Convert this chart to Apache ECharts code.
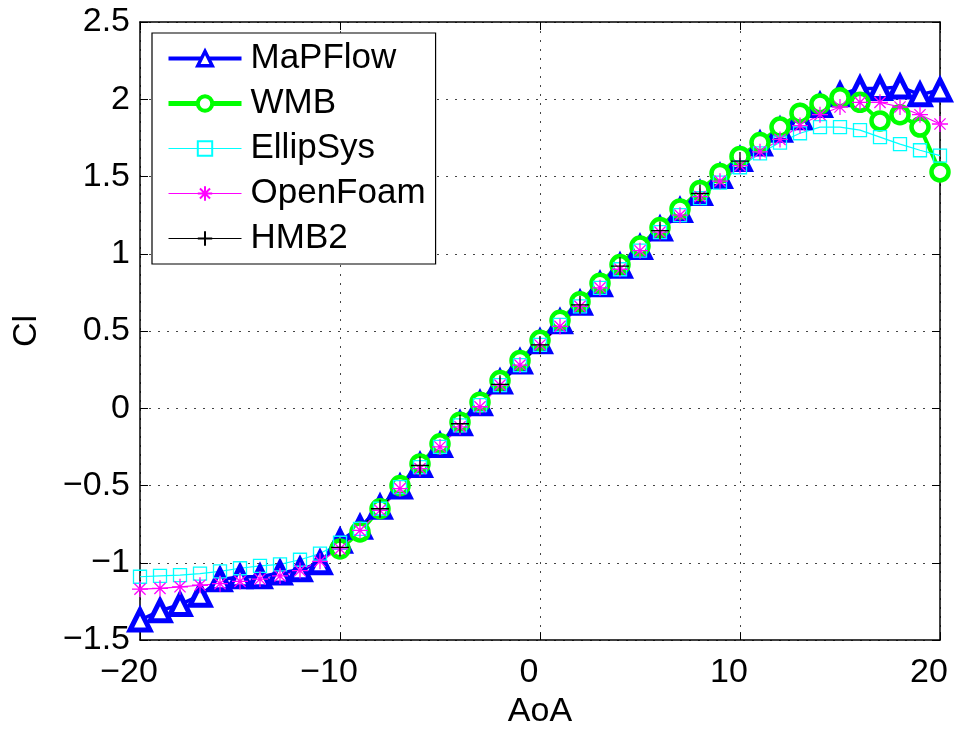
<!DOCTYPE html>
<html>
<head>
<meta charset="utf-8">
<script src="https://cdn.jsdelivr.net/npm/echarts@6/dist/echarts.min.js"></script>
</head>
<body style="margin: 0; padding: 0; background: #fff;">
<div id="chart" style="width: 964px; height: 734px;"></div>
<script>
// angle of attack, deg
const aoa = [-20, -19, -18, -17, -16, -15, -14, -13, -12, -11, -10, -9, -8, -7, -6, -5, -4, -3, -2, -1,
  0, 1, 2, 3, 4, 5, 6, 7, 8, 9, 10, 11, 12, 13, 14, 15, 16, 17, 18, 19, 20]
const aoaWmb = [-10, -9, -8, -7, -6, -5, -4, -3, -2, -1, 0, 1, 2, 3, 4, 5, 6, 7, 8, 9, 10,
  11, 12, 13, 14, 15, 16, 17, 18, 19, 20]
const aoaHmb = [-10, -8, -6, -4, -2, 0, 2, 4, 6, 8, 10]

// Cl values
const mapflow = [-1.37, -1.31, -1.27, -1.21, -1.11, -1.09, -1.09, -1.065, -1.045, -1.00, -0.86, -0.77, -0.64, -0.51, -0.37, -0.24, -0.10, 0.03, 0.17, 0.30,
  0.43, 0.56, 0.68, 0.80, 0.92, 1.04, 1.16, 1.28, 1.39, 1.50, 1.61, 1.71, 1.80, 1.88, 1.96, 2.03, 2.07, 2.07, 2.08, 2.03, 2.06]
const wmb = [-0.91, -0.80, -0.65, -0.50, -0.36, -0.23, -0.09, 0.04, 0.18, 0.31, 0.44, 0.57, 0.69, 0.81, 0.93, 1.05, 1.17, 1.29, 1.41, 1.52,
  1.63, 1.72, 1.82, 1.91, 1.97, 2.01, 1.98, 1.86, 1.90, 1.82, 1.53]
const ellipsys = [-1.09, -1.085, -1.08, -1.07, -1.055, -1.035, -1.02, -1.01, -0.98, -0.94, -0.87, -0.78, -0.65, -0.51, -0.38, -0.25, -0.11, 0.02, 0.15, 0.28,
  0.41, 0.54, 0.66, 0.78, 0.90, 1.02, 1.14, 1.25, 1.36, 1.46, 1.56, 1.65, 1.72, 1.78, 1.82, 1.82, 1.80, 1.755, 1.71, 1.67, 1.635]
const openfoam = [-1.17, -1.165, -1.155, -1.145, -1.135, -1.12, -1.105, -1.085, -1.05, -0.99, -0.91, -0.79, -0.66, -0.52, -0.39, -0.25, -0.12, 0.01, 0.15, 0.28,
  0.41, 0.53, 0.66, 0.78, 0.90, 1.02, 1.14, 1.25, 1.37, 1.47, 1.57, 1.66, 1.74, 1.83, 1.90, 1.95, 1.98, 1.98, 1.95, 1.90, 1.84]
const hmb2 = [-0.90, -0.65, -0.37, -0.10, 0.155, 0.41, 0.67, 0.92, 1.15, 1.39, 1.60]

const FONT = 'Liberation Sans, Arial, Helvetica, sans-serif'
const STAR = 'path://M10 0L10 20M0 10L20 10M3 3L17 17M3 17L17 3'
const PLUS = 'path://M10 0L10 20M0 10L20 10'

const pairs = (xs, ys) => xs.map((x, i) => [x, ys[i]])
const minus = v => String(v).replace('-', '\u2212')

const chart = echarts.init(document.getElementById('chart'))

const boxAxis = {
  axisLine: { onZero: false, lineStyle: { color: '#000', width: 1.5 } },
  axisTick: { inside: true, length: 8, lineStyle: { color: '#000', width: 1 } }
}

chart.setOption({
  animation: false,
  backgroundColor: '#fff',
  grid: { left: 140, right: 24, top: 22, bottom: 88 },
  xAxis: [{
    type: 'value', min: -20, max: 20, interval: 10,
    name: 'AoA', nameLocation: 'middle', nameGap: 52,
    nameTextStyle: { fontFamily: FONT, fontSize: 34, color: '#000' },
    ...boxAxis,
    axisLabel: { fontFamily: FONT, fontSize: 34, color: '#000', margin: 16, padding: [0, 22, 0, 0], formatter: minus },
    splitLine: { show: true, lineStyle: { color: '#444', type: [2, 7], width: 1 } }
  }, {
    type: 'value', min: -20, max: 20, interval: 10, position: 'top',
    ...boxAxis, axisLabel: { show: false }, splitLine: { show: false }
  }],
  yAxis: [{
    type: 'value', min: -1.5, max: 2.5, interval: 0.5,
    name: 'Cl', nameLocation: 'middle', nameGap: 96,
    nameTextStyle: { fontFamily: FONT, fontSize: 34, color: '#000' },
    ...boxAxis,
    axisLabel: { fontFamily: FONT, fontSize: 34, color: '#000', margin: 10, formatter: minus },
    splitLine: { show: true, lineStyle: { color: '#444', type: [2, 7], width: 1 } }
  }, {
    type: 'value', min: -1.5, max: 2.5, interval: 0.5, position: 'right',
    ...boxAxis, axisLabel: { show: false }, splitLine: { show: false }
  }],
  legend: {
    orient: 'vertical', left: 152, top: 33,
    padding: [8, 10, 8, 14], itemGap: 10, itemWidth: 73, itemHeight: 18,
    backgroundColor: '#fff', borderColor: '#000', borderWidth: 1.2,
    textStyle: { fontFamily: FONT, fontSize: 35, lineHeight: 34, color: '#000', padding: [0, 0, 0, 4] },
    data: [
      { name: 'MaPFlow', lineStyle: { width: 4 }, itemStyle: { borderWidth: 3.5 } },
      { name: 'WMB', lineStyle: { width: 5 }, itemStyle: { borderWidth: 4 } },
      { name: 'EllipSys', lineStyle: { width: 1.2 } },
      { name: 'OpenFoam', lineStyle: { width: 1.2 } },
      { name: 'HMB2', lineStyle: { width: 1.2 } }
    ]
  },
  series: [{
    name: 'MaPFlow', type: 'line', data: pairs(aoa, mapflow),
    color: '#0000ff', symbol: 'triangle', symbolSize: 20,
    lineStyle: { color: '#0000ff', width: 3.5 },
    itemStyle: { color: '#fff', borderColor: '#0000ff', borderWidth: 5 }
  }, {
    name: 'WMB', type: 'line', data: pairs(aoaWmb, wmb),
    color: '#00ff00', symbol: 'circle', symbolSize: 17,
    lineStyle: { color: '#00ff00', width: 4 },
    itemStyle: { color: '#fff', borderColor: '#00ff00', borderWidth: 4.5 }
  }, {
    name: 'EllipSys', type: 'line', data: pairs(aoa, ellipsys),
    color: '#00ffff', symbol: 'rect', symbolSize: 13,
    lineStyle: { color: '#00ffff', width: 1.2 },
    itemStyle: { color: 'rgba(255,255,255,0)', borderColor: '#00ffff', borderWidth: 1.3 }
  }, {
    name: 'OpenFoam', type: 'line', data: pairs(aoa, openfoam),
    color: '#ff00ff', symbol: STAR, symbolSize: 16,
    lineStyle: { color: '#ff00ff', width: 1.2 },
    itemStyle: { color: '#ff00ff', borderColor: '#ff00ff', borderWidth: 1.3 }
  }, {
    name: 'HMB2', type: 'line', data: pairs(aoaHmb, hmb2),
    color: '#000', symbol: PLUS, symbolSize: 18,
    lineStyle: { color: '#000', width: 1.2 },
    itemStyle: { color: '#000', borderColor: '#000', borderWidth: 1.3 }
  }]
})
</script>
</body>
</html>
